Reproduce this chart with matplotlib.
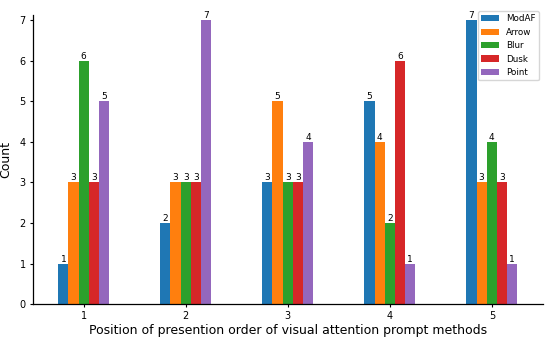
import matplotlib
matplotlib.use("Agg")
import matplotlib.pyplot as plt
import numpy as np

positions = [1, 2, 3, 4, 5]
methods = ["ModAF", "Arrow", "Blur", "Dusk", "Point"]
modaf = [1, 2, 3, 5, 7]
arrow = [3, 3, 5, 4, 3]
blur = [6, 3, 3, 2, 4]
dusk = [3, 3, 3, 6, 3]
point = [5, 7, 4, 1, 1]
series = [modaf, arrow, blur, dusk, point]
colors = ["#1f77b4", "#ff7f0e", "#2ca02c", "#d62728", "#9467bd"]

fig, ax = plt.subplots(figsize=(5.5, 3.41), dpi=100)
x = np.array(positions, dtype=float)
w = 0.1
for i, (name, vals, c) in enumerate(zip(methods, series, colors)):
    bars = ax.bar(x + (i - 2) * w, vals, w, label=name, color=c)
    ax.bar_label(bars, labels=[str(v) for v in vals], fontsize=6.5, padding=0)

ax.set_xticks(positions)
ax.set_yticks(range(0, 8))
ax.set_xlim(0.5, 5.5)
ax.set_ylim(0, 7.12)
ax.tick_params(labelsize=7, length=2.5, pad=2.5)
ax.set_ylabel("Count", fontsize=9, labelpad=5)
ax.set_xlabel("Position of presention order of visual attention prompt methods", fontsize=9, labelpad=2)
ax.spines["top"].set_visible(False)
ax.spines["right"].set_visible(False)
for s in ("left", "bottom"):
    ax.spines[s].set_linewidth(0.9)
ax.legend(loc="upper right", fontsize=6.3, bbox_to_anchor=(1.001, 1.029))
fig.subplots_adjust(left=0.0595, right=0.987, top=0.956, bottom=0.1076)
fig.savefig("out.png", dpi=100)
